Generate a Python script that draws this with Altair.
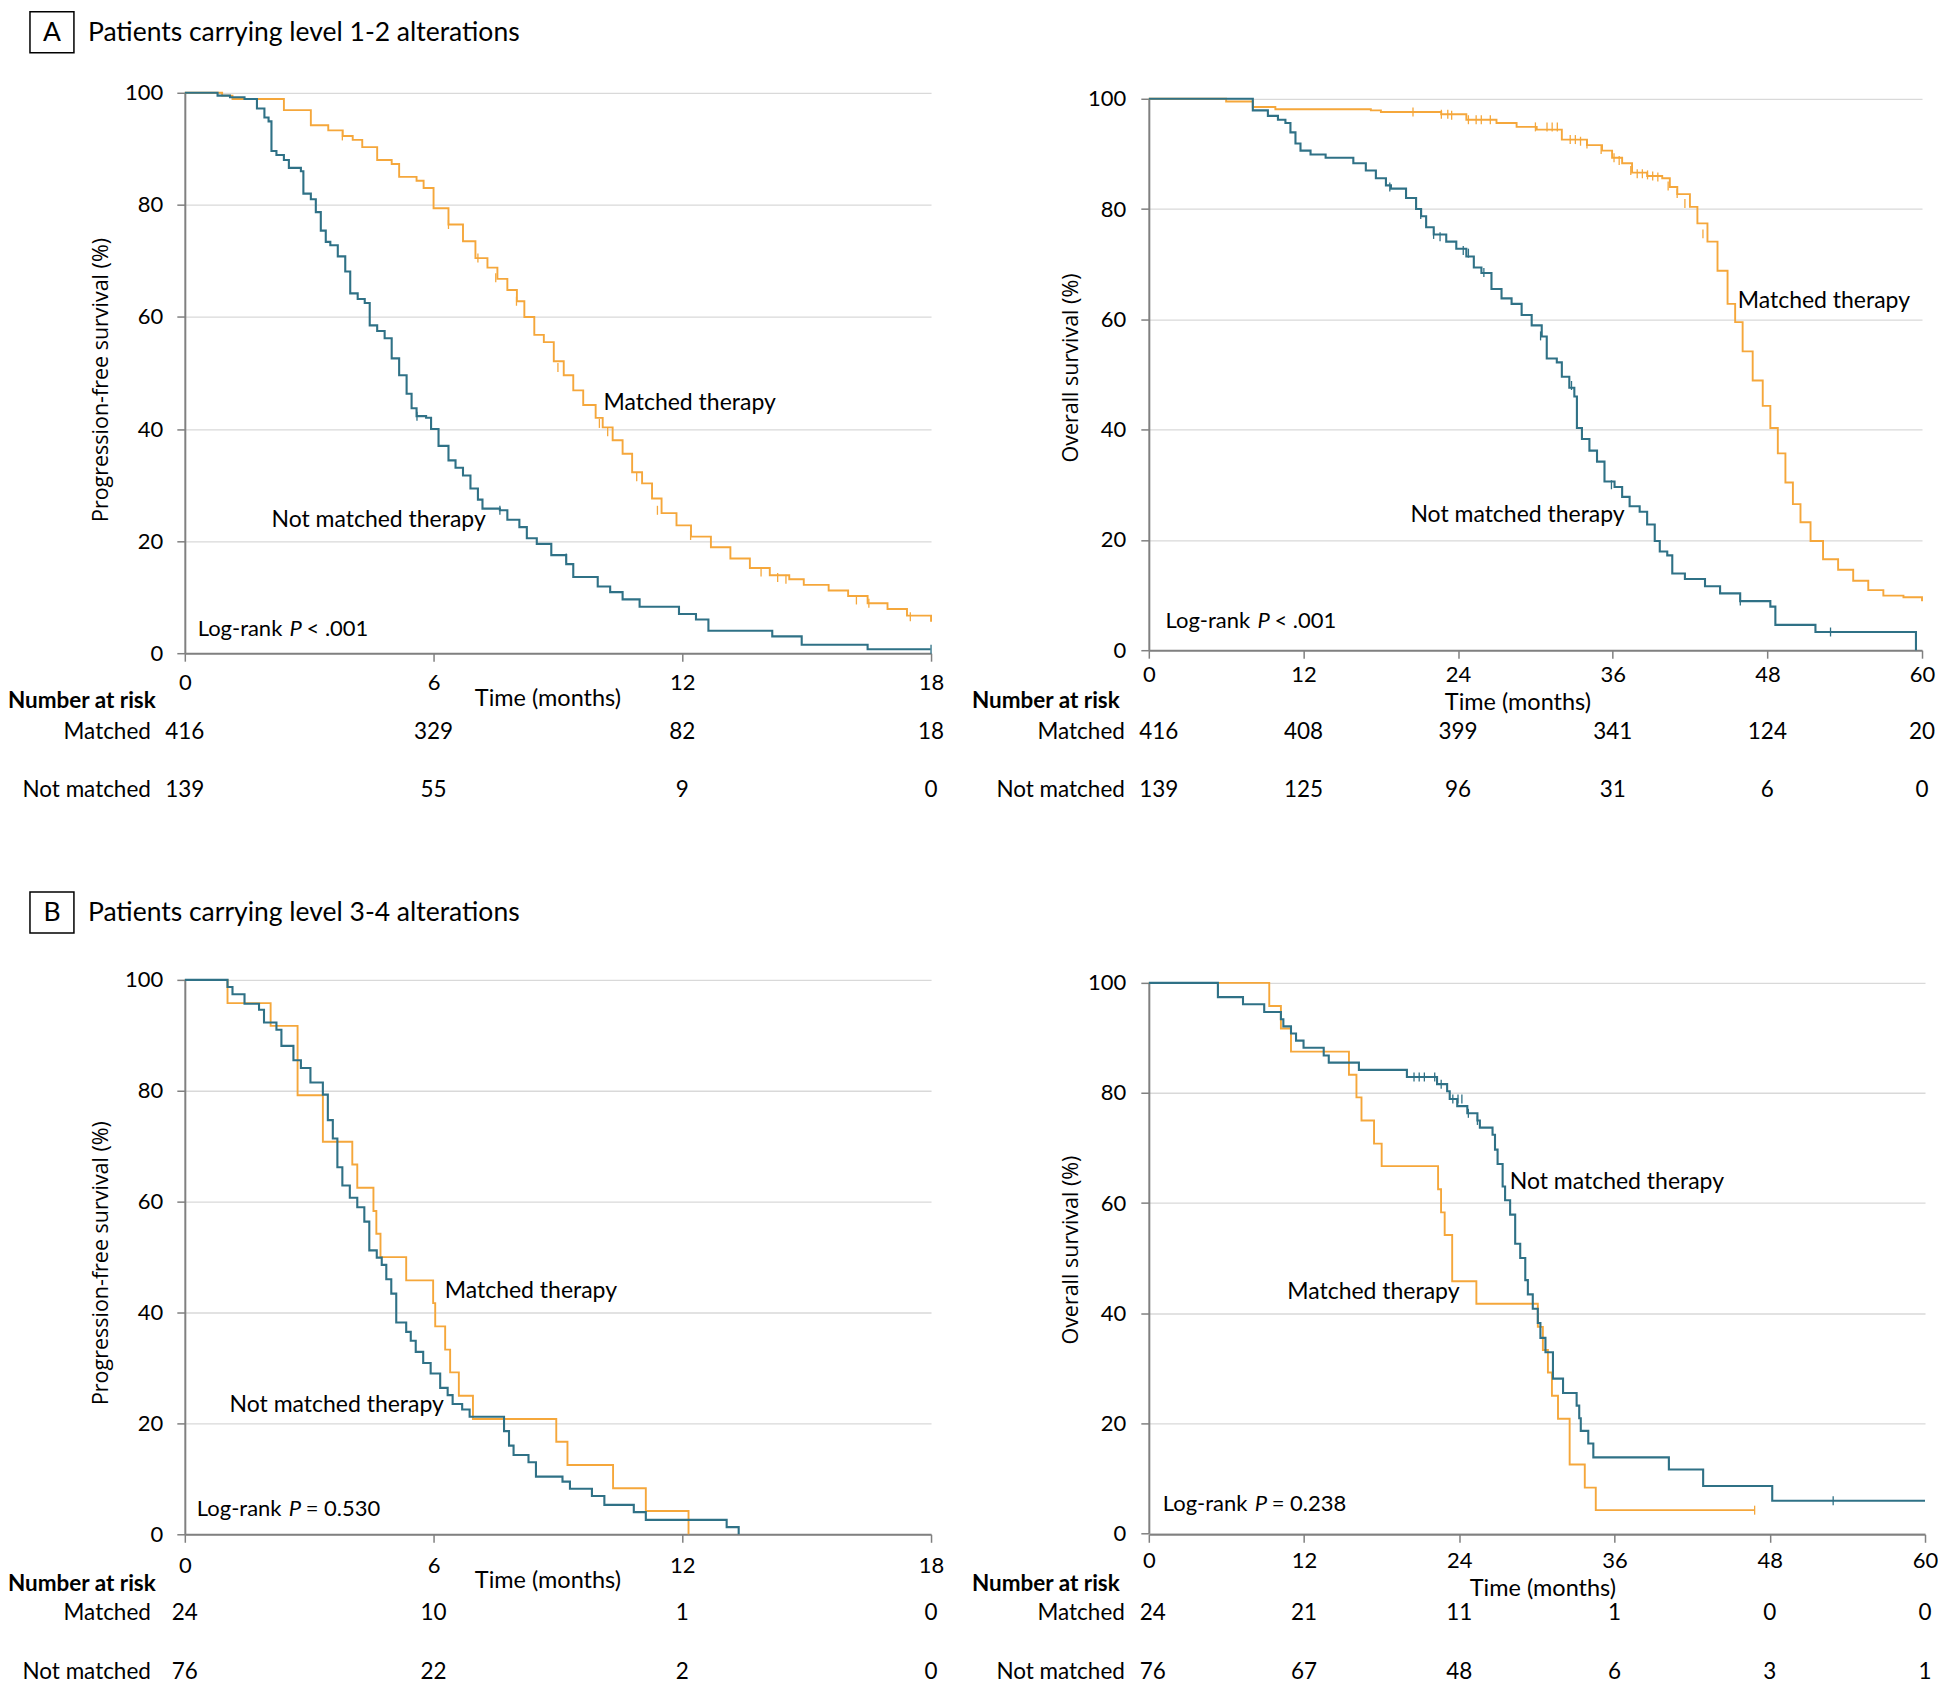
import altair as alt
import pandas as pd

FONT = "Lato"
YTITLE_FONT = "Open Sans"
ORANGE = "#F5A73B"
TEAL = "#2F7186"
GRID = "#D9D9D9"
AXIS_GRAY = "#808080"

# ---------------- Panel A, progression-free survival (months 0-18) ----------------
A_PFS_M_T = [0, 0.9, 1.15, 2.39, 3.04, 3.46, 3.81, 4.05, 4.28, 4.64, 4.99, 5.17, 5.59, 5.76, 6.0,
             6.36, 6.71, 7.01, 7.30, 7.54, 7.78, 8.01, 8.19, 8.43, 8.66, 8.90, 9.14, 9.37, 9.61,
             9.91, 10.08, 10.32, 10.56, 10.79, 11.03, 11.27, 11.50, 11.86, 12.21, 12.69, 13.16,
             13.63, 14.11, 14.58, 14.93, 15.53, 16.00, 16.47, 16.95, 17.42, 18.0]
A_PFS_M_S = [100, 99.5, 98.9, 96.9, 94.2, 93.3, 92.3, 91.6, 90.3, 88.0, 87.3, 85.0, 84.3, 83.0, 79.4,
             76.5, 73.5, 70.5, 68.8, 66.8, 64.8, 62.8, 60.0, 56.8, 55.5, 52.1, 49.6, 46.9, 44.3,
             42.0, 40.3, 38.0, 35.6, 32.3, 30.3, 27.6, 25.0, 22.8, 20.8, 18.9, 16.9,
             15.2, 13.9, 13.2, 12.2, 11.2, 10.2, 8.9, 7.9, 6.7, 5.6]
A_PFS_N_T = [0, 0.79, 1.09, 1.44, 1.74, 1.92, 2.02, 2.09, 2.21, 2.39, 2.51, 2.80, 2.86, 3.04, 3.16,
             3.28, 3.40, 3.51, 3.69, 3.87, 3.99, 4.17, 4.34, 4.46, 4.64, 4.82, 4.99, 5.17, 5.35,
             5.47, 5.59, 5.82, 5.94, 6.12, 6.36, 6.53, 6.71, 6.89, 7.07, 7.18, 7.60, 7.78, 8.07,
             8.25, 8.49, 8.84, 9.20, 9.37, 9.96, 10.26, 10.56, 10.97, 11.92, 12.33, 12.63, 14.17,
             14.88, 16.47, 17.99]
A_PFS_N_S = [100, 99.5, 99.2, 98.9, 97.2, 95.6, 94.9, 89.6, 88.9, 88.0, 86.6, 86.0, 82.0, 81.0, 78.7,
             75.4, 73.4, 72.8, 70.8, 68.1, 64.2, 63.2, 62.5, 58.5, 57.5, 56.2, 52.6, 49.6, 46.3,
             43.7, 42.3, 42.0, 40.0, 37.0, 34.4, 33.1, 31.7, 29.4, 27.4, 25.8, 25.5, 23.8, 22.5,
             20.5, 19.5, 17.5, 15.9, 13.6, 11.9, 10.9, 9.6, 8.3, 7.0, 6.0, 4.0, 3.0,
             1.5, 0.7, 0.7]
A_PFS_M_CENS_T = [3.8, 6.36, 7.07, 7.5, 8.0, 9.0, 10.0, 10.2, 10.9, 11.4, 12.2, 13.9, 14.3, 14.5, 16.2, 16.5, 17.5]
A_PFS_M_CENS_S = [92.3, 76.5, 70.5, 67.0, 62.8, 51.0, 41.0, 39.5, 31.5, 25.5, 21.0, 14.5, 13.5, 13.2, 9.5, 8.9, 6.5]
A_PFS_N_CENS_T = [5.6, 7.6, 9.2, 18.0]
A_PFS_N_CENS_S = [42.3, 25.5, 17.0, 0.7]
A_PFS_RISK_T = [0, 6, 12, 18]
A_PFS_RISK_M = [416, 329, 82, 18]
A_PFS_RISK_N = [139, 55, 9, 0]

# ---------------- Panel A, overall survival (months 0-60) ----------------
A_OS_M_T = [0, 6.0, 8.07, 9.82, 17.23, 18.01, 22.69, 24.64, 26.98, 28.54, 30.10, 32.05, 34.0, 35.17,
            35.95, 36.73, 37.50, 38.67, 39.84, 40.43, 41.01, 41.99, 42.57, 43.35, 44.13, 44.91,
            45.50, 46.08, 46.86, 47.64, 48.23, 48.81, 49.40, 49.98, 50.57, 51.35, 52.32, 53.49,
            54.66, 55.83, 57.0, 58.56, 60.0]
A_OS_M_S = [100, 99.5, 98.5, 98.1, 97.9, 97.6, 97.2, 96.2, 95.6, 94.9, 94.4, 92.6, 91.6, 90.6,
            89.3, 88.3, 86.6, 86.0, 85.6, 84.0, 82.7, 80.4, 77.4, 74.1, 68.8, 62.8,
            59.5, 54.2, 48.9, 44.3, 40.3, 35.7, 30.4, 26.5, 23.2, 19.8, 16.5, 14.6,
            12.6, 10.9, 9.9, 9.6, 8.9]
A_OS_N_T = [0, 8.07, 9.24, 10.02, 10.60, 10.99, 11.38, 11.77, 12.55, 13.72, 15.87, 16.84, 17.62,
            18.40, 18.79, 19.96, 20.74, 21.13, 21.52, 22.11, 23.08, 23.86, 24.64, 25.22, 25.81,
            26.59, 27.37, 28.15, 28.93, 29.71, 30.49, 30.88, 31.66, 32.05, 32.63, 33.02, 33.22,
            33.61, 34.19, 34.78, 35.36, 36.14, 36.73, 37.31, 38.09, 38.67, 39.26, 39.65, 40.23,
            40.62, 41.60, 43.16, 44.33, 45.89, 48.23, 48.62, 51.73, 59.53]
A_OS_N_S = [100, 97.9, 96.9, 96.2, 95.6, 93.9, 91.9, 90.6, 89.9, 89.3, 88.3, 87.0, 85.6,
            84.3, 83.7, 82.0, 80.0, 78.7, 76.7, 75.4, 74.1, 72.8, 71.4, 69.4, 68.4,
            65.5, 63.8, 62.8, 60.8, 58.9, 56.9, 52.9, 52.2, 49.6, 47.6, 46.0, 40.3,
            38.3, 36.2, 34.2, 30.6, 29.6, 27.8, 26.1, 25.1, 22.8, 19.8, 17.9, 17.2,
            13.9, 12.9, 11.6, 10.3, 8.9, 7.9, 4.6, 3.3, 0.0]
A_OS_M_CENS_T = [20.5, 22.7, 23.2, 23.5, 24.8, 25.4, 25.8, 26.5, 30.0, 30.9, 31.3, 31.7, 32.7, 33.1,
                 33.5, 34.0, 35.1, 36.1, 36.5, 37.4, 37.9, 38.3, 38.7, 39.1, 39.5, 40.3, 41.0, 41.6, 43.0]
A_OS_M_CENS_S = [97.6, 97.2, 97.2, 97.0, 96.2, 96.2, 96.2, 96.2, 94.9, 94.9, 94.9, 94.9, 92.6, 92.6,
                 92.3, 91.8, 90.8, 89.3, 88.8, 87.0, 86.4, 86.4, 86.2, 86.0, 85.8, 84.2, 82.8, 81.0, 75.5]
A_OS_N_CENS_T = [18.7, 21.1, 22.1, 22.6, 24.4, 24.8, 26.0, 30.4, 32.8, 35.9, 45.9, 52.9]
A_OS_N_CENS_S = [84.0, 79.0, 75.4, 75.0, 72.5, 72.0, 68.5, 57.0, 48.0, 30.0, 8.9, 3.3]
A_OS_RISK_T = [0, 12, 24, 36, 48, 60]
A_OS_RISK_M = [416, 408, 399, 341, 124, 20]
A_OS_RISK_N = [139, 125, 96, 31, 6, 0]

# ---------------- Panel B, progression-free survival ----------------
B_PFS_M_T = [0, 1.03, 2.07, 2.72, 3.33, 4.04, 4.16, 4.55, 4.62, 4.72, 5.34, 5.99, 6.04, 6.28, 6.40,
             6.61, 6.95, 8.96, 9.23, 10.33, 11.12, 12.15]
B_PFS_M_S = [100, 95.8, 91.7, 79.2, 70.8, 66.7, 62.5, 58.3, 54.2, 50.0, 45.8, 41.7, 37.5, 33.3, 29.2,
             25.0, 20.8, 16.7, 12.5, 8.3, 4.2, 0]
B_PFS_N_T = [0, 1.03, 1.15, 1.44, 1.79, 1.91, 2.21, 2.33, 2.62, 2.80, 3.03, 3.33, 3.45, 3.57, 3.68,
             3.80, 3.98, 4.16, 4.33, 4.45, 4.63, 4.75, 4.86, 4.98, 5.10, 5.34, 5.45, 5.57, 5.75,
             5.93, 6.16, 6.34, 6.46, 6.69, 6.87, 7.70, 7.82, 7.93, 8.29, 8.47, 9.11, 9.29, 9.82,
             10.12, 10.83, 11.12, 13.07, 13.36]
B_PFS_N_S = [100, 98.7, 97.4, 95.7, 94.6, 92.3, 91.0, 88.1, 85.5, 84.1, 81.5, 79.3, 74.7, 71.4, 66.2,
             62.9, 60.7, 59.0, 56.4, 51.2, 49.9, 48.6, 46.0, 43.4, 38.2, 36.5, 34.9, 32.9, 30.9,
             29.0, 26.4, 25.1, 23.5, 22.5, 21.2, 18.6, 16.0, 14.3, 13.0, 10.4, 9.5, 8.2, 6.9,
             5.3, 4.0, 2.6, 1.3, 0]
B_PFS_RISK_T = [0, 6, 12, 18]
B_PFS_RISK_M = [24, 10, 1, 0]
B_PFS_RISK_N = [76, 22, 2, 0]

# ---------------- Panel B, overall survival ----------------
B_OS_M_T = [0, 9.31, 10.21, 10.99, 15.47, 16.05, 16.44, 17.41, 18.0, 22.36, 22.59, 22.87, 23.45,
            25.32, 30.07, 30.46, 30.85, 31.16, 31.63, 32.53, 33.70, 34.55, 46.83]
B_OS_M_S = [100, 95.8, 91.7, 87.5, 83.3, 79.2, 75.0, 70.8, 66.7, 62.5, 58.3, 54.2, 45.8,
            41.7, 37.5, 33.3, 29.2, 25.0, 20.8, 12.5, 8.3, 4.2, 4.2]
B_OS_N_T = [0, 5.34, 7.28, 8.92, 10.21, 10.40, 10.99, 11.38, 11.96, 13.52, 13.91, 16.24, 19.95,
            22.28, 23.06, 23.26, 23.84, 24.62, 25.40, 25.59, 26.57, 26.76, 26.96, 27.35, 27.54,
            27.93, 28.32, 28.71, 29.10, 29.30, 29.68, 30.07, 30.27, 30.66, 31.24, 32.02, 33.07,
            33.27, 33.39, 33.97, 34.36, 40.2, 42.85, 48.19, 60.0]
B_OS_N_S = [100, 97.4, 96.1, 94.7, 93.4, 92.1, 90.8, 89.5, 88.2, 86.8, 85.5, 84.2, 82.9,
            81.6, 80.3, 78.9, 77.6, 76.3, 75.0, 73.7, 72.4, 69.7, 67.1, 63.0, 60.5,
            57.9, 52.6, 50.0, 46.0, 43.4, 40.8, 38.2, 35.5, 32.9, 28.1, 25.5, 23.2,
            20.9, 18.6, 16.3, 13.8, 11.6, 8.6, 5.9, 5.9]
B_OS_M_CENS_T = [46.83]
B_OS_M_CENS_S = [4.2]
B_OS_N_CENS_T = [5.34, 20.5, 20.9, 21.3, 22.1, 22.6, 23.5, 23.9, 24.2, 24.7, 25.4, 40.2, 52.9]
B_OS_N_CENS_S = [98.7, 82.9, 82.9, 82.9, 82.9, 81.6, 78.9, 78.9, 78.9, 76.3, 75.0, 12.5, 5.9]
B_OS_RISK_T = [0, 12, 24, 36, 48, 60]
B_OS_RISK_M = [24, 21, 11, 1, 0, 0]
B_OS_RISK_N = [76, 67, 48, 6, 3, 1]

LABEL_SIZE = 23
PVAL_SIZE = 22
RISK_SIZE = 22.5
TICK_SIZE = 22
HEAD_SIZE = 26.5


def df_ts(t, s):
    return pd.DataFrame({"t": t, "s": s})


def make_panel(cm, cn, censm, censn, labels, pval, risk, xmax, xticks, ytitle,
               width, height, xrange, yrange, xaxis_offset, xlabel_pad, ylabel_pad,
               xtitle_xy, ytitle_xy, risk_y, risk_label_x, first_dx=0, header=None):
    X = alt.X("t:Q",
              scale=alt.Scale(domain=[0, xmax], range=xrange, nice=False, zero=True),
              axis=alt.Axis(values=xticks, title="Time (months)", grid=False,
                            titleX=xtitle_xy[0], titleY=xtitle_xy[1], titleBaseline="middle",
                            titleAlign="center", titleFont=FONT, titleFontSize=23.5,
                            offset=xaxis_offset, labelPadding=xlabel_pad,
                            labelBaseline="middle", labelFlush=False))
    Y = alt.Y("s:Q",
              scale=alt.Scale(domain=[0, 100], range=yrange, nice=False),
              axis=alt.Axis(values=[0, 20, 40, 60, 80, 100], title=ytitle, grid=True,
                            titleX=ytitle_xy[0], titleY=ytitle_xy[1], titleBaseline="middle",
                            titleAlign="center", titleFont=YTITLE_FONT, titleFontSize=21.5,
                            labelPadding=ylabel_pad, labelFlush=False))

    layers = []
    layers.append(alt.Chart(df_ts(*cm)).mark_line(interpolate="step-after", color=ORANGE,
                                                   strokeWidth=1.9).encode(x=X, y=Y))
    layers.append(alt.Chart(df_ts(*cn)).mark_line(interpolate="step-after", color=TEAL,
                                                  strokeWidth=2.1).encode(x=X, y=Y))
    if censm is not None:
        layers.append(alt.Chart(df_ts(*censm)).mark_tick(orient="vertical", size=9, thickness=1.3,
                                                         color=ORANGE, opacity=1).encode(x=X, y=Y))
    if censn is not None:
        layers.append(alt.Chart(df_ts(*censn)).mark_tick(orient="vertical", size=9, thickness=1.3,
                                                         color=TEAL, opacity=1).encode(x=X, y=Y))
    # curve labels
    lab_df = pd.DataFrame({"t": [l[0] for l in labels], "s": [l[1] for l in labels],
                           "txt": [l[2] for l in labels]})
    layers.append(alt.Chart(lab_df).mark_text(align="left", baseline="middle", font=FONT,
                                              fontSize=LABEL_SIZE, color="black")
                  .encode(x=X, y=Y, text="txt:N"))
    # log-rank p
    pt, ps, ptail = pval
    p_df = pd.DataFrame({"t": [pt], "s": [ps]})
    layers.append(alt.Chart(p_df).mark_text(align="left", baseline="middle", font=FONT,
                                            fontSize=PVAL_SIZE, color="black", text="Log-rank")
                  .encode(x=X, y=Y))
    layers.append(alt.Chart(p_df).mark_text(align="left", baseline="middle", font=FONT,
                                            fontSize=PVAL_SIZE, color="black", text="P",
                                            fontStyle="italic", dx=92)
                  .encode(x=X, y=Y))
    layers.append(alt.Chart(p_df).mark_text(align="left", baseline="middle", font=FONT,
                                            fontSize=PVAL_SIZE, color="black", text=ptail, dx=109)
                  .encode(x=X, y=Y))
    # number at risk (first column kept separate so it can sit just right of the labels)
    rt, rm, rn = risk
    for counts, ry in ((rm, risk_y[1]), (rn, risk_y[2])):
        layers.append(alt.Chart(pd.DataFrame({"t": rt[:1], "n": counts[:1]})).mark_text(
            align="center", baseline="middle", font=FONT, fontSize=RISK_SIZE, color="black",
            dx=first_dx)
            .encode(x=X, y=alt.value(ry), text="n:N"))
        layers.append(alt.Chart(pd.DataFrame({"t": rt[1:], "n": counts[1:]})).mark_text(
            align="center", baseline="middle", font=FONT, fontSize=RISK_SIZE, color="black")
            .encode(x=X, y=alt.value(ry), text="n:N"))
    layers.append(alt.Chart(pd.DataFrame({"lab": ["Number at risk"]})).mark_text(
        align="left", baseline="middle", font=FONT, fontSize=RISK_SIZE, fontWeight="bold",
        color="black")
        .encode(x=alt.value(-177), y=alt.value(risk_y[0]), text="lab:N"))
    layers.append(alt.Chart(pd.DataFrame({"lab": ["Matched"]})).mark_text(
        align="right", baseline="middle", font=FONT, fontSize=RISK_SIZE, color="black")
        .encode(x=alt.value(risk_label_x), y=alt.value(risk_y[1]), text="lab:N"))
    layers.append(alt.Chart(pd.DataFrame({"lab": ["Not matched"]})).mark_text(
        align="right", baseline="middle", font=FONT, fontSize=RISK_SIZE, color="black")
        .encode(x=alt.value(risk_label_x), y=alt.value(risk_y[2]), text="lab:N"))
    if header is not None:
        letter, title, top = header
        layers.append(alt.Chart(pd.DataFrame({"k": [1]})).mark_rect(
            fill="white", stroke="black", strokeWidth=1.5)
            .encode(x=alt.value(-155), x2=alt.value(-111), y=alt.value(top), y2=alt.value(top + 41)))
        layers.append(alt.Chart(pd.DataFrame({"lab": [letter]})).mark_text(
            align="center", baseline="middle", font=FONT, fontSize=HEAD_SIZE, color="black")
            .encode(x=alt.value(-133), y=alt.value(top + 21), text="lab:N"))
        layers.append(alt.Chart(pd.DataFrame({"lab": [title]})).mark_text(
            align="left", baseline="middle", font=FONT, fontSize=HEAD_SIZE, color="black")
            .encode(x=alt.value(-97), y=alt.value(top + 21), text="lab:N"))
    return alt.layer(*layers).properties(width=width, height=height)


pA1 = make_panel((A_PFS_M_T, A_PFS_M_S), (A_PFS_N_T, A_PFS_N_S),
                 (A_PFS_M_CENS_T, A_PFS_M_CENS_S), (A_PFS_N_CENS_T, A_PFS_N_CENS_S),
                 [(10.1, 44.6, "Matched therapy"), (2.09, 23.7, "Not matched therapy")],
                 (0.31, 4.3, "< .001"),
                 (A_PFS_RISK_T, A_PFS_RISK_M, A_PFS_RISK_N),
                 18, [0, 6, 12, 18], "Progression-free survival (%)",
                 747, 561, [0, 747], [561, 0], 0, 21, 14,
                 (363, 45), (-83, 287), [609, 640, 698], -34,
                 header=("A", "Patients carrying level 1-2 alterations", -81))
pA2 = make_panel((A_OS_M_T, A_OS_M_S), (A_OS_N_T, A_OS_N_S),
                 (A_OS_M_CENS_T, A_OS_M_CENS_S), (A_OS_N_CENS_T, A_OS_N_CENS_S),
                 [(45.7, 63.4, "Matched therapy"), (20.3, 24.5, "Not matched therapy")],
                 (1.3, 5.3, "< .001"),
                 (A_OS_RISK_T, A_OS_RISK_M, A_OS_RISK_N),
                 60, [0, 12, 24, 36, 48, 60], "Overall survival (%)",
                 780, 561, [0, 774], [558, 6], -3, 16, 15,
                 (369, 52), (-77, 275), [609, 640, 698], -24, first_dx=10)
pB1 = make_panel((B_PFS_M_T, B_PFS_M_S), (B_PFS_N_T, B_PFS_N_S),
                 None, None,
                 [(6.27, 43.8, "Matched therapy"), (1.08, 23.4, "Not matched therapy")],
                 (0.29, 4.5, "= 0.530"),
                 (B_PFS_RISK_T, B_PFS_RISK_M, B_PFS_RISK_N),
                 18, [0, 6, 12, 18], "Progression-free survival (%)",
                 747, 555, [0, 747], [555, 0], 0, 23, 14,
                 (363, 46), (-83, 283), [605, 634, 693], -34,
                 header=("B", "Patients carrying level 3-4 alterations", -88))
pB2 = make_panel((B_OS_M_T, B_OS_M_S), (B_OS_N_T, B_OS_N_S),
                 (B_OS_M_CENS_T, B_OS_M_CENS_S), (B_OS_N_CENS_T, B_OS_N_CENS_S),
                 [(27.9, 63.9, "Not matched therapy"), (10.7, 43.9, "Matched therapy")],
                 (1.08, 5.3, "= 0.238"),
                 (B_OS_RISK_T, B_OS_RISK_M, B_OS_RISK_N),
                 60, [0, 12, 24, 36, 48, 60], "Overall survival (%)",
                 780, 555, [0, 777], [554, 3], 0, 18, 15,
                 (394, 54), (-77, 270), [605, 634, 693], -24, first_dx=4)

chart = alt.concat(pA1, pA2, pB1, pB2, columns=2,
                   spacing={"row": 327, "column": 218},
                   bounds="flush", align="each").properties(
    padding={"left": 0, "top": 2, "right": 0, "bottom": 0},
    background="white",
).configure_view(stroke=None).configure_axis(
    domainColor=AXIS_GRAY, domainWidth=2, tickColor=AXIS_GRAY, tickWidth=1.5, tickSize=8,
    labelFont=FONT, labelFontSize=TICK_SIZE, labelColor="black",
    titleColor="black", titleFontWeight="normal",
    gridColor=GRID, gridWidth=1.3,
)

chart.save("out.html", embed_options={"renderer": "svg", "actions": False})
